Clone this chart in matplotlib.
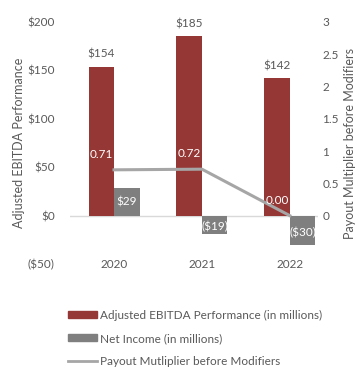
import matplotlib
matplotlib.use("Agg")
import matplotlib.pyplot as plt
import numpy as np
from matplotlib.patches import Patch
from matplotlib.lines import Line2D

years = ["2020", "2021", "2022"]
ebitda = [154, 185, 142]
net_income = [29, -19, -30]
multiplier = [0.71, 0.72, 0.00]

RED = "#953735"
GREY = "#7F7F7F"
LINE = "#A6A6A6"
TXT = "#595959"

plt.rcParams["font.family"] = ["Lato", "DejaVu Sans"]
fs = 8.5

fig = plt.figure(figsize=(3.63, 3.85), dpi=100)
ax = fig.add_axes([0.193, 0.314, 0.683, 0.629])
x = np.arange(len(years))
w = 0.29
ax.bar(x - w / 2, ebitda, w, color=RED)
ax.bar(x + w / 2, net_income, w, color=GREY)
ax.set_ylim(-50, 200)
ax.set_xlim(-0.5, 2.32)
ax.set_yticks([-50, 0, 50, 100, 150, 200],
              ["($50)", "$0", "$50", "$100", "$150", "$200"])
ax.set_xticks([])
for s in ax.spines.values():
    s.set_visible(False)
ax.axhline(0, color="#D9D9D9", lw=1, zorder=0.5)
ax.tick_params(length=0, labelsize=fs, labelcolor=TXT, pad=11)
ax.set_ylabel("Adjusted EBITDA Performance", fontsize=fs + 0.5, color=TXT, labelpad=2)

for xi, yr in zip(x, years):
    ax.text(xi, -50, yr, ha="center", va="center", fontsize=fs, color=TXT)

for xi, v in zip(x, ebitda):
    ax.annotate(f"${v}", (xi - w / 2, v), xytext=(0, 9), textcoords="offset points",
                ha="center", va="center", fontsize=fs, color=TXT)
for xi, v in zip(x, net_income):
    lab = f"${v}" if v >= 0 else f"(${-v})"
    ax.text(xi + w / 2, v / 2 if v > 0 else v * 0.6, lab, ha="center", va="center",
            fontsize=fs, color="white")

ax2 = ax.twinx()
ax2.plot(x, multiplier, color=LINE, lw=2.2)
ax2.set_ylim(-0.75, 3)
ax2.set_yticks([0, 0.5, 1, 1.5, 2, 2.5, 3], ["0", "0.5", "1", "1.5", "2", "2.5", "3"])
for s in ax2.spines.values():
    s.set_visible(False)
ax2.tick_params(length=0, labelsize=fs, labelcolor=TXT, pad=3)
ax2.set_ylabel("Payout Multiplier before Modifiers", fontsize=fs + 0.5, color=TXT, labelpad=4)
for xi, v in zip(x, multiplier):
    ax2.annotate(f"{v:.2f}", (xi, v), xytext=(-9, 11), textcoords="offset points",
                 ha="center", va="center", fontsize=fs, color="white")

handles = [Patch(color=RED), Patch(color=GREY), Line2D([], [], color=LINE, lw=2)]
labels = ["Adjusted EBITDA Performance (in millions)", "Net Income (in millions)",
          "Payout Mutliplier before Modifiers"]
fig.legend(handles, labels, loc="upper left", bbox_to_anchor=(0.159, 0.223),
           frameon=False, fontsize=fs, handlelength=2.4, handleheight=0.5,
           handletextpad=0.25, labelspacing=1.03, labelcolor=TXT)

fig.savefig("out.png", dpi=100)
